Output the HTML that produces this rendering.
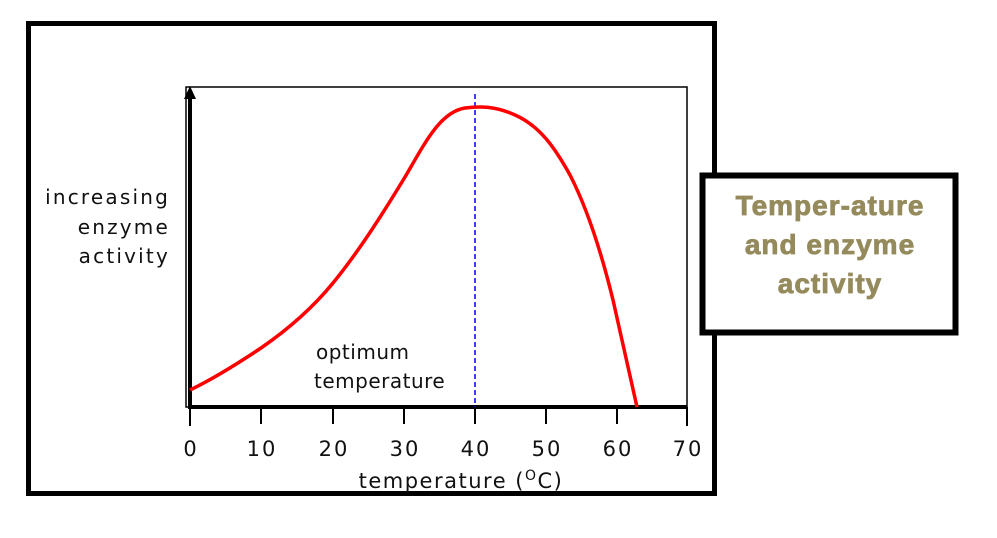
<!DOCTYPE html>
<html><head><style>
body{margin:0;width:997px;height:538px;background:#fff;overflow:hidden}
svg{display:block}
.t{font-family:"DejaVu Sans","Liberation Sans",sans-serif;fill:#111}
.h{font-family:"Liberation Sans",sans-serif;fill:#958a5c;font-weight:bold}
</style></head><body>
<svg width="997" height="538" viewBox="0 0 997 538">
<rect x="28.5" y="23.5" width="686" height="470" fill="none" stroke="#000" stroke-width="5"/>
<rect x="186" y="87" width="501" height="320" fill="none" stroke="#000" stroke-width="1.5"/>
<line x1="190" y1="92" x2="190" y2="409" stroke="#000" stroke-width="4"/>
<polygon points="190,86 184,99 196,99" fill="#000"/>
<line x1="188" y1="407" x2="687" y2="407" stroke="#000" stroke-width="4"/>
<g stroke="#000" stroke-width="2">
<line x1="190" y1="407" x2="190" y2="426"/><line x1="261" y1="407" x2="261" y2="424"/>
<line x1="333" y1="407" x2="333" y2="424"/><line x1="404" y1="407" x2="404" y2="424"/>
<line x1="475" y1="407" x2="475" y2="424"/><line x1="546" y1="407" x2="546" y2="424"/>
<line x1="617" y1="407" x2="617" y2="424"/><line x1="687" y1="407" x2="687" y2="426"/>
</g>
<line x1="475" y1="94" x2="475" y2="407" stroke="#0000ee" stroke-width="1.5" stroke-dasharray="5,3"/>
<path d="M190,390 C215,378 240,362 261,348 C290,328 315,305 333,283 C360,250 385,210 405,177 C425,143 440,112 465,108 C480,106 495,106 515,115 C540,126 555,148 570,175 C588,210 602,255 613,300 C623,345 631,380 637,407" fill="none" stroke="#ff0000" stroke-width="3.5"/>
<g class="t" font-size="21" text-anchor="middle" letter-spacing="2">
<text x="191" y="456">0</text><text x="262" y="456">10</text><text x="334" y="456">20</text>
<text x="405" y="456">30</text><text x="476" y="456">40</text><text x="547" y="456">50</text>
<text x="618" y="456">60</text><text x="688" y="456">70</text>
</g>
<text class="t" x="461" y="488" font-size="21" text-anchor="middle" letter-spacing="1.5">temperature (<tspan font-size="14" dy="-8">O</tspan><tspan dy="8">C)</tspan></text>
<g class="t" font-size="20" text-anchor="end" letter-spacing="2.2">
<text x="170" y="204">increasing</text><text x="170" y="234">enzyme</text><text x="170" y="263">activity</text>
</g>
<g class="t" font-size="20" letter-spacing="0.5">
<text x="316" y="359">optimum</text><text x="314" y="388">temperature</text>
</g>
<rect x="702.5" y="175.5" width="253" height="157" fill="#fff" stroke="#000" stroke-width="6"/>
<g class="h" font-size="28" text-anchor="middle" letter-spacing="1" stroke="#958a5c" stroke-width="0.8">
<text x="830" y="215">Temper-ature</text><text x="830" y="254">and enzyme</text><text x="830" y="293">activity</text>
</g>
</svg>
</body></html>
